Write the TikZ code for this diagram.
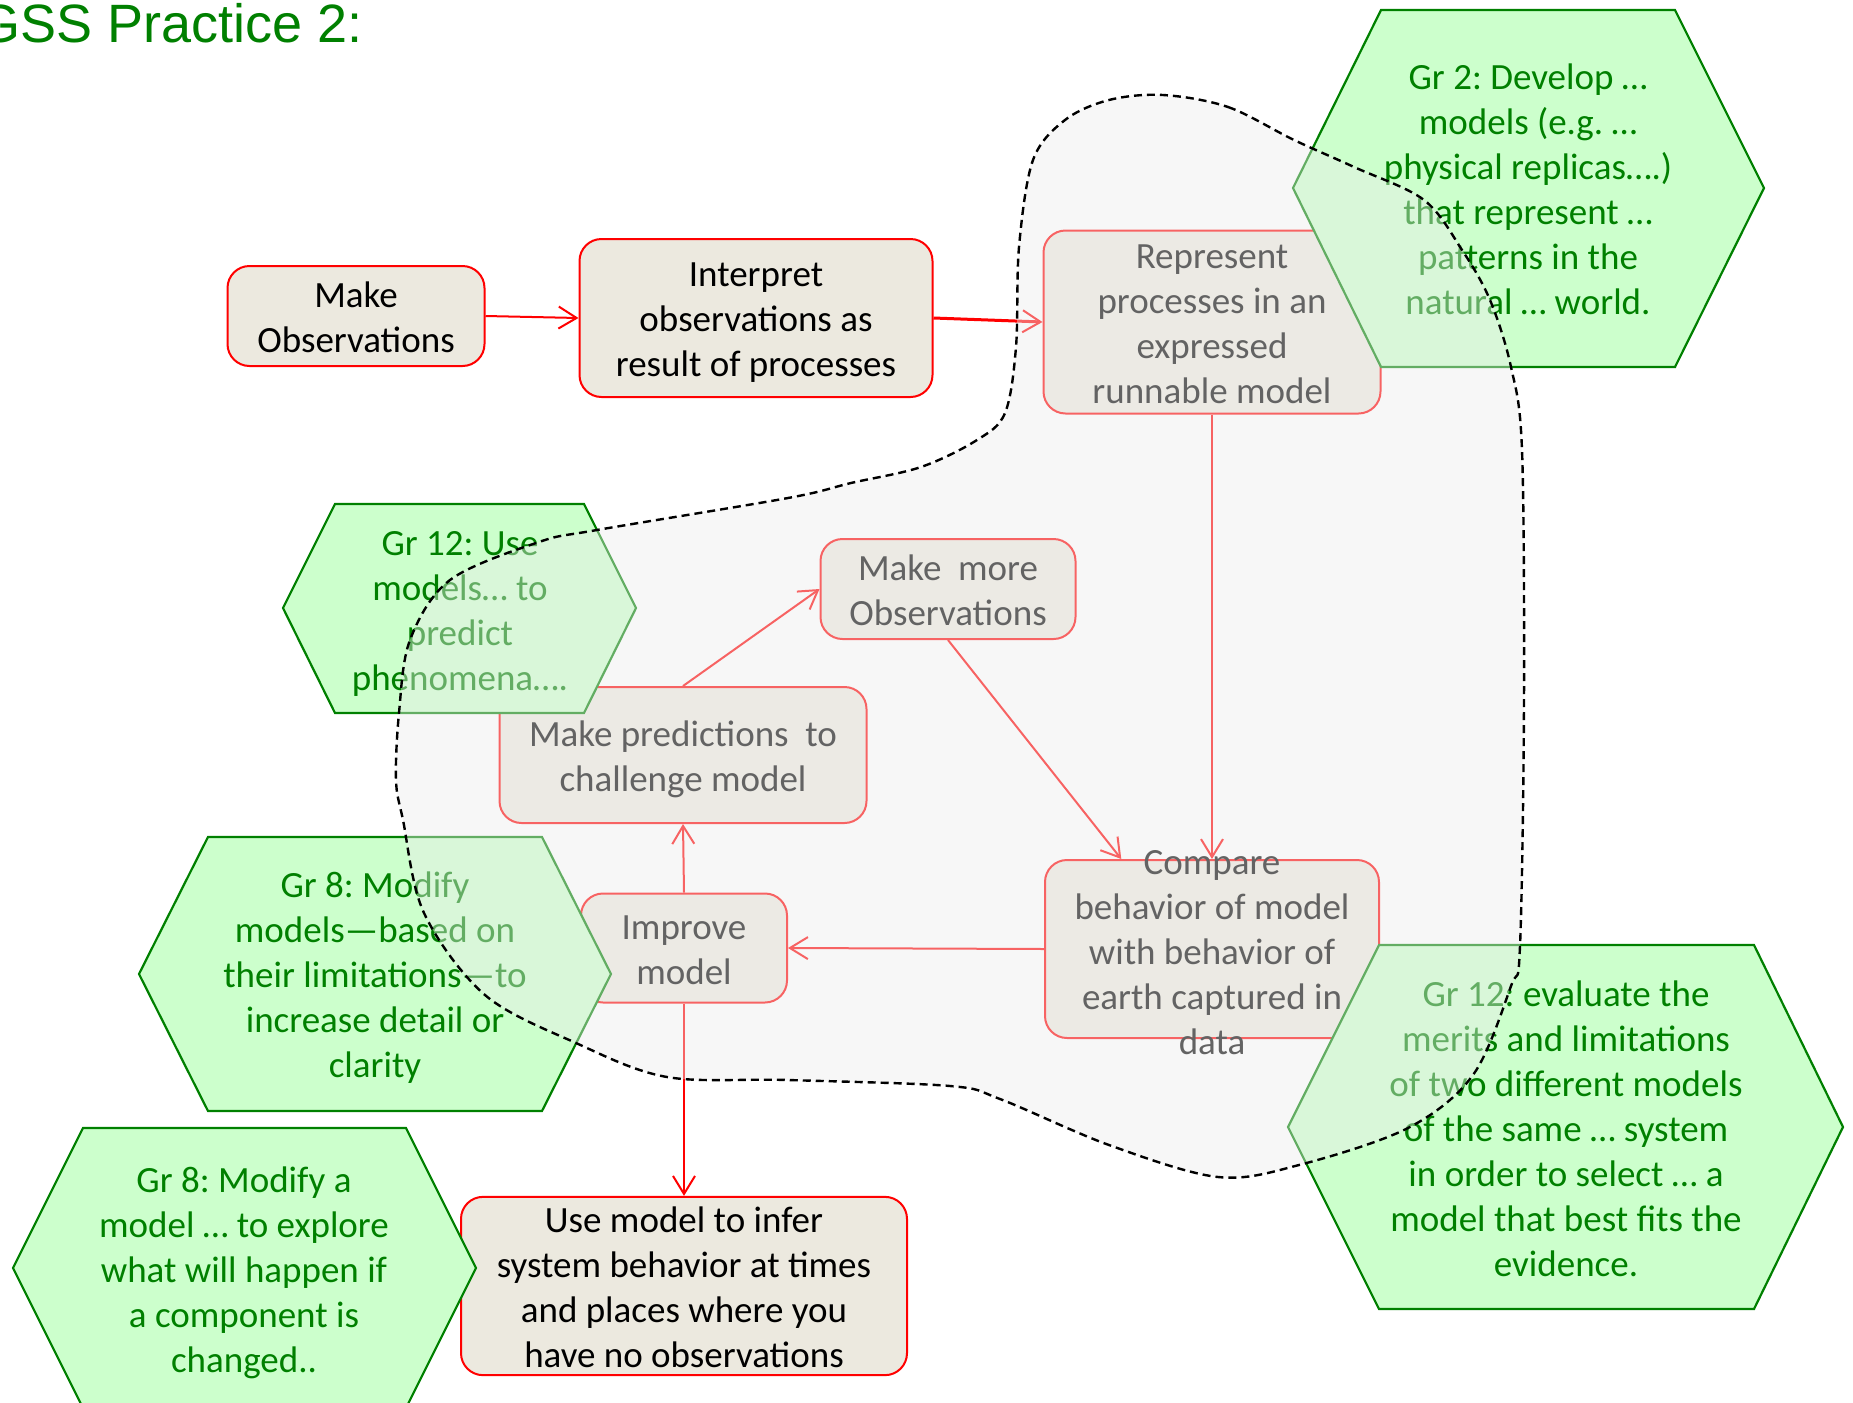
\documentclass[tikz,border=0pt]{standalone}
\usepackage{fontspec}
\setmainfont{Carlito}
\newfontfamily\titlefont{Liberation Sans}
\usetikzlibrary{arrows.meta,calc}
\frenchspacing

\definecolor{boxfill}{RGB}{236,233,223}
\definecolor{hexfill}{RGB}{204,255,204}
\definecolor{ngreen}{RGB}{0,128,0}
\definecolor{haze}{RGB}{237,237,237}

% uniform line box so that every text block is centred the same way
\newcommand\linestrut{\rule[-0.22em]{0pt}{1.17em}}

\tikzset{
  bodytext/.style={align=center, inner sep=0pt,
    font=\fontsize{37}{45}\selectfont,
    execute at end node=\linestrut},
  stepbox/.style={bodytext, draw=red, line width=2pt, fill=boxfill,
    rounded corners=22pt},
  flow/.style={draw=red, line width=2pt,
    -{Straight Barb[length=18pt,width=22pt,line width=2pt]}},
  hexshape/.style={draw=ngreen, line width=2.2pt, fill=hexfill},
  hextext/.style={bodytext, text=ngreen},
  focus/.style={draw=black, line width=2.4pt, dash pattern=on 8pt off 5pt,
    fill=haze, fill opacity=0.42, draw opacity=1}
}

\begin{document}
\begin{tikzpicture}[x=1pt,y=-1pt]
  \fill[white] (0,0) rectangle (1853,1403);
  \clip (0,0) rectangle (1853,1403);

  % process steps
  \node[stepbox, minimum width=257pt, minimum height=100pt] (obs)  at (356,316)  {\linestrut Make\\Observations};
  \node[stepbox, minimum width=353pt, minimum height=158pt] (int)  at (756,318)  {\linestrut Interpret\\observations as\\result of processes};
  \node[stepbox, minimum width=337pt, minimum height=183pt] (rep)  at (1212,322) {\linestrut Represent\\processes in an\\expressed\\runnable model};
  \node[stepbox, minimum width=255pt, minimum height=100pt] (more) at (948,589)  {\linestrut Make~ more\\Observations};
  \node[stepbox, minimum width=367pt, minimum height=136pt] (pred) at (683,755)  {\linestrut Make predictions~ to\\challenge model};
  \node[stepbox, minimum width=334pt, minimum height=178pt] (cmp)  at (1212,949) {};
  \node[bodytext] (cmptext) at (1212,951) {\linestrut Compare\\behavior of model\\with behavior of\\earth captured in\\data};
  \node[stepbox, minimum width=206pt, minimum height=109pt] (imp)  at (684,948)  {\linestrut Improve\\model};
  \node[stepbox, minimum width=446pt, minimum height=177pt] (use)  at (684,1286) {\linestrut Use model to infer\\system behavior at times\\and places where you\\have no observations};

  % connectors
  \draw[flow] (obs.east) -- (int.west);
  \draw[flow, line width=3pt] (int.east) -- (rep.west);
  \draw[flow] (rep.south) -- (cmp.north);
  \draw[flow] (more.south) -- ($(cmp.north west)!0.23!(cmp.north east)$);
  \draw[flow] (cmp.west) -- (imp.east);
  \draw[flow] (imp.north) -- (pred.south);
  \draw[flow] (pred.north) -- (more.west);
  \draw[flow] (imp.south) -- (use.north);

  % grade-band hexagons
  \draw[hexshape] (1293,188) -- (1381,10) -- (1675,10) -- (1764,188) -- (1675,367) -- (1381,367) -- cycle;
  \node[hextext] (g2) at (1528,188) {\linestrut Gr 2: Develop …\\models (e.g. …\\physical replicas….)\\that represent …\\patterns in the\\natural … world.};

  \draw[hexshape] (283,608) -- (335,504) -- (584,504) -- (636,608) -- (584,713) -- (335,713) -- cycle;
  \node[hextext] (g12use) at (460,609) {\linestrut Gr 12: Use\\models… to\\predict\\phenomena….};

  \draw[hexshape] (139,974) -- (208,837) -- (542,837) -- (611,974) -- (542,1111) -- (208,1111) -- cycle;
  \node[hextext] (g8mod) at (375,974) {\linestrut Gr 8: Modify\\models—based on\\their limitations—to\\increase detail or\\clarity};

  \draw[hexshape] (13,1268) -- (83,1128) -- (406,1128) -- (476,1268) -- (406,1408) -- (83,1408) -- cycle;
  \node[hextext] (g8a) at (244,1269) {\linestrut Gr 8: Modify a\\model … to explore\\what will happen if\\a component is\\changed..};

  \draw[hexshape] (1288,1127) -- (1379,945) -- (1754,945) -- (1843,1127) -- (1754,1309) -- (1379,1309) -- cycle;
  \node[hextext] (g12eval) at (1566,1128) {\linestrut Gr 12: evaluate the\\merits and limitations\\of two different models\\of the same … system\\in order to select … a\\model that best fits the\\evidence.};

  % modelling cycle region
  \draw[focus] plot[smooth cycle, tension=0.55] coordinates {
    (1163,95) (1228,107) (1294,140) (1354,167) (1424,200) (1462,250)
    (1490,300) (1511,367) (1522,450)
    (1524,700) (1520,946) (1511,986) (1473,1075) (1408,1128) (1299,1165)
    (1218,1177) (1109,1145) (1000,1099) (950,1086) (788,1080) (667,1077)
    (576,1043) (485,995) (424,913) (403,820) (396,780) (399,713) (410,640)
    (450,580) (539,542) (597,530) (788,498) (851,483) (921,467) (977,440)
    (1005,413) (1016,347) (1019,247) (1033,160) (1065,120) (1109,100)};

  % heading
  \node[anchor=base west, inner sep=0pt, text=ngreen,
        font=\titlefont\fontsize{54}{62}\selectfont] (title) at (-22,42) {GSS Practice 2:};
\end{tikzpicture}
\end{document}
